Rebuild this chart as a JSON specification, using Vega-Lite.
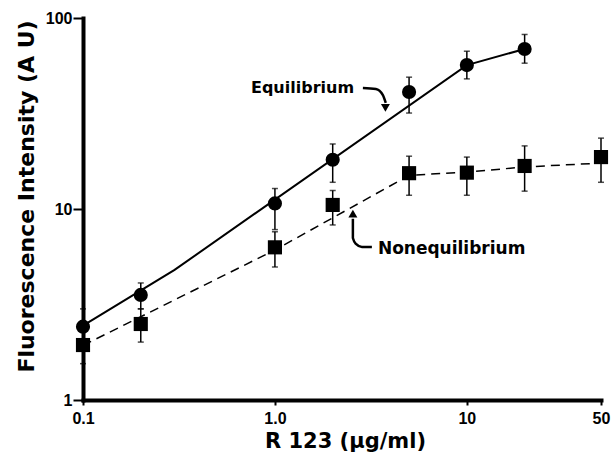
{
  "$schema": "https://vega.github.io/schema/vega-lite/v6.json",
  "autosize": {"type": "none"},
  "width": 518,
  "height": 382,
  "padding": {"left": 83, "top": 18, "right": 10, "bottom": 62},
  "background": "white",
  "config": {
    "view": {"stroke": null},
    "font": "DejaVu Sans"
  },
  "datasets": {
    "measurements": [
      {"series": "Equilibrium", "x": 0.1, "y": 2.42, "lo": 2.0, "hi": 3.0},
      {"series": "Equilibrium", "x": 0.2, "y": 3.55, "lo": 3.0, "hi": 4.1},
      {"series": "Equilibrium", "x": 1, "y": 10.7, "lo": 7.8, "hi": 12.8},
      {"series": "Equilibrium", "x": 2, "y": 18.1, "lo": 13.8, "hi": 21.9},
      {"series": "Equilibrium", "x": 5, "y": 41, "lo": 31.8, "hi": 49},
      {"series": "Equilibrium", "x": 10, "y": 56.7, "lo": 48, "hi": 67},
      {"series": "Equilibrium", "x": 20, "y": 68.8, "lo": 58, "hi": 82},
      {"series": "Nonequilibrium", "x": 0.1, "y": 1.94, "lo": 1.55, "hi": 2.3},
      {"series": "Nonequilibrium", "x": 0.2, "y": 2.5, "lo": 2.01, "hi": 3.0},
      {"series": "Nonequilibrium", "x": 1, "y": 6.3, "lo": 4.97, "hi": 7.6},
      {"series": "Nonequilibrium", "x": 2, "y": 10.5, "lo": 8.25, "hi": 12.5},
      {"series": "Nonequilibrium", "x": 5, "y": 15.4, "lo": 11.8, "hi": 18.9},
      {"series": "Nonequilibrium", "x": 10, "y": 15.5, "lo": 11.8, "hi": 18.7},
      {"series": "Nonequilibrium", "x": 20, "y": 16.8, "lo": 12.4, "hi": 21.4},
      {"series": "Nonequilibrium", "x": 50, "y": 18.7, "lo": 13.8, "hi": 23.5}
    ],
    "fits": [
      {"series": "Equilibrium", "x": 0.1, "y": 2.45},
      {"series": "Equilibrium", "x": 0.3, "y": 4.8},
      {"series": "Equilibrium", "x": 10, "y": 56.7},
      {"series": "Equilibrium", "x": 20, "y": 68.8},
      {"series": "Nonequilibrium", "x": 0.1, "y": 1.93},
      {"series": "Nonequilibrium", "x": 1, "y": 6.1},
      {"series": "Nonequilibrium", "x": 5, "y": 15.0},
      {"series": "Nonequilibrium", "x": 10, "y": 15.6},
      {"series": "Nonequilibrium", "x": 20, "y": 16.6},
      {"series": "Nonequilibrium", "x": 50, "y": 17.4}
    ],
    "arrowPaths": [
      {"arrow": "eq", "step": 1, "x": 2.873, "y": 43.0},
      {"arrow": "eq", "step": 2, "x": 3.357, "y": 42.5},
      {"arrow": "eq", "step": 3, "x": 3.652, "y": 39.5},
      {"arrow": "eq", "step": 4, "x": 3.78, "y": 35.9},
      {"arrow": "neq", "step": 1, "x": 3.2, "y": 6.32},
      {"arrow": "neq", "step": 2, "x": 2.84, "y": 6.32},
      {"arrow": "neq", "step": 3, "x": 2.643, "y": 6.56},
      {"arrow": "neq", "step": 4, "x": 2.548, "y": 7.05},
      {"arrow": "neq", "step": 5, "x": 2.548, "y": 8.9}
    ],
    "arrowHeads": [
      {"arrow": "eq", "x": 3.764, "y": 33.8},
      {"arrow": "neq", "x": 2.548, "y": 9.47}
    ],
    "labels": [
      {"label": "Equilibrium", "x": 0.75, "y": 40.3},
      {"label": "Nonequilibrium", "x": 3.44, "y": 5.81}
    ]
  },
  "layer": [
    {
      "data": {"name": "measurements"},
      "mark": {"type": "rule", "color": "black", "strokeWidth": 1.5},
      "encoding": {
        "x": {
          "field": "x", "type": "quantitative",
          "scale": {"type": "log", "domain": [0.1, 50], "nice": false},
          "axis": {
            "title": "R 123 (μg/ml)",
            "values": [0.1, 1, 10, 50],
            "labelExpr": "datum.value < 0.5 ? '0.1' : datum.value < 5 ? '1.0' : datum.value < 20 ? '10' : '50'",
            "grid": false,
            "domainColor": "black", "domainWidth": 4, "domainCap": "square",
            "tickColor": "black", "tickWidth": 2, "tickSize": 5,
            "labelFont": "Liberation Sans", "labelFontWeight": "bold", "labelFontSize": 16,
            "labelColor": "black", "labelPadding": 5, "labelFlush": false, "labelOverlap": false,
            "titleFont": "DejaVu Sans", "titleFontWeight": "bold", "titleFontSize": 21,
            "titleColor": "black", "titleX": 262, "titleY": 47,
            "titleAlign": "center", "titleBaseline": "alphabetic"
          }
        },
        "y": {
          "field": "lo", "type": "quantitative",
          "scale": {"type": "log", "domain": [1, 100], "nice": false},
          "axis": {
            "title": "Fluorescence Intensity (A U)",
            "values": [1, 10, 100],
            "labelExpr": "format(datum.value, 'd')",
            "grid": false,
            "domainColor": "black", "domainWidth": 4, "domainCap": "square",
            "tickColor": "black", "tickWidth": 2, "tickSize": 10,
            "labelFont": "Liberation Sans", "labelFontWeight": "bold", "labelFontSize": 16,
            "labelColor": "black", "labelPadding": 1, "labelFlush": false, "labelOverlap": false,
            "titleFont": "DejaVu Sans", "titleFontWeight": "bold", "titleFontSize": 22,
            "titleColor": "black", "titleAngle": -90, "titleX": -50, "titleY": 178,
            "titleAlign": "center", "titleBaseline": "alphabetic"
          }
        },
        "y2": {"field": "hi"}
      }
    },
    {
      "data": {"name": "measurements"},
      "mark": {"type": "tick", "orient": "horizontal", "color": "black", "size": 6, "thickness": 1.5},
      "encoding": {
        "x": {"field": "x", "type": "quantitative"},
        "y": {"field": "hi", "type": "quantitative"}
      }
    },
    {
      "data": {"name": "measurements"},
      "mark": {"type": "tick", "orient": "horizontal", "color": "black", "size": 6, "thickness": 1.5},
      "encoding": {
        "x": {"field": "x", "type": "quantitative"},
        "y": {"field": "lo", "type": "quantitative"}
      }
    },
    {
      "data": {"name": "fits"},
      "transform": [{"filter": "datum.series == 'Equilibrium'"}],
      "mark": {"type": "line", "color": "black", "strokeWidth": 2},
      "encoding": {
        "x": {"field": "x", "type": "quantitative"},
        "y": {"field": "y", "type": "quantitative"}
      }
    },
    {
      "data": {"name": "fits"},
      "transform": [{"filter": "datum.series == 'Nonequilibrium'"}],
      "mark": {"type": "line", "color": "black", "strokeWidth": 1.5, "strokeDash": [9, 6]},
      "encoding": {
        "x": {"field": "x", "type": "quantitative"},
        "y": {"field": "y", "type": "quantitative"}
      }
    },
    {
      "data": {"name": "measurements"},
      "mark": {"type": "point", "filled": true, "color": "black", "opacity": 1, "size": 200},
      "encoding": {
        "x": {"field": "x", "type": "quantitative"},
        "y": {"field": "y", "type": "quantitative"},
        "shape": {
          "field": "series", "type": "nominal",
          "scale": {"domain": ["Equilibrium", "Nonequilibrium"], "range": ["circle", "square"]},
          "legend": null
        }
      }
    },
    {
      "data": {"name": "arrowPaths"},
      "mark": {"type": "line", "color": "black", "strokeWidth": 2.5, "interpolate": "monotone"},
      "encoding": {
        "x": {"field": "x", "type": "quantitative"},
        "y": {"field": "y", "type": "quantitative"},
        "detail": {"field": "arrow"},
        "order": {"field": "step", "type": "quantitative"}
      }
    },
    {
      "data": {"name": "arrowHeads"},
      "transform": [{"filter": "datum.arrow == 'eq'"}],
      "mark": {"type": "point", "filled": true, "color": "black", "opacity": 1, "size": 80, "shape": "triangle-down"},
      "encoding": {
        "x": {"field": "x", "type": "quantitative"},
        "y": {"field": "y", "type": "quantitative"}
      }
    },
    {
      "data": {"name": "arrowHeads"},
      "transform": [{"filter": "datum.arrow == 'neq'"}],
      "mark": {"type": "point", "filled": true, "color": "black", "opacity": 1, "size": 80, "shape": "triangle-up"},
      "encoding": {
        "x": {"field": "x", "type": "quantitative"},
        "y": {"field": "y", "type": "quantitative"}
      }
    },
    {
      "data": {"name": "labels"},
      "transform": [{"filter": "datum.label == 'Equilibrium'"}],
      "mark": {"type": "text", "align": "left", "baseline": "alphabetic", "font": "DejaVu Sans", "fontWeight": "bold", "fontSize": 16, "color": "black"},
      "encoding": {
        "x": {"field": "x", "type": "quantitative"},
        "y": {"field": "y", "type": "quantitative"},
        "text": {"field": "label"}
      }
    },
    {
      "data": {"name": "labels"},
      "transform": [{"filter": "datum.label == 'Nonequilibrium'"}],
      "mark": {"type": "text", "align": "left", "baseline": "alphabetic", "font": "DejaVu Sans", "fontWeight": "bold", "fontSize": 17, "color": "black"},
      "encoding": {
        "x": {"field": "x", "type": "quantitative"},
        "y": {"field": "y", "type": "quantitative"},
        "text": {"field": "label"}
      }
    }
  ]
}
